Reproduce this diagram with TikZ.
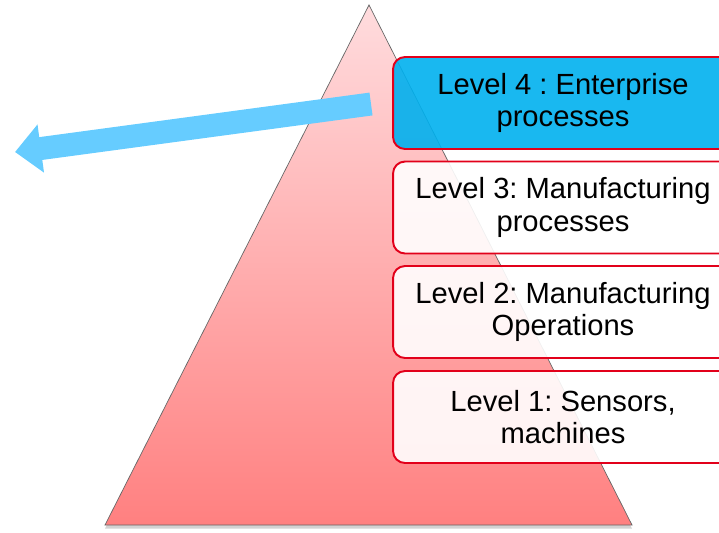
\documentclass[tikz,border=0pt]{standalone}
\usepackage{fontspec}
\setmainfont{Liberation Sans}
\usetikzlibrary{arrows.meta,shadows}
\frenchspacing

\definecolor{boxred}{HTML}{E2001A}
\definecolor{boxblue}{HTML}{00B0EE}
\definecolor{arrowblue}{HTML}{66CCFF}
\definecolor{pyrtop}{HTML}{FFDCDE}
\definecolor{pyrbottom}{HTML}{FF8080}

\tikzset{
  levelbox/.style={draw=boxred, line width=1.1pt, rounded corners=0.24cm,
    fill=white, fill opacity=0.9, text opacity=1,
    minimum width=6.8cm, minimum height=1.84cm, align=center,
    font=\fontsize{16.6}{18.7}\selectfont},
}

\begin{document}
\begin{tikzpicture}[x=0.02cm, y=-0.02cm]
    \useasboundingbox (0,0) rectangle (719,532);
    \clip (0,0) rectangle (719,532);

    % pyramid
    \draw[draw=black!60, thin, top color=pyrtop, bottom color=pyrbottom,
          drop shadow={shadow xshift=0pt, shadow yshift=-2pt, opacity=0.35}]
        (369,5) -- (632,525) -- (105,525) -- cycle;

    % levels
    \node[levelbox, fill=boxblue] (lvlfour) at (563,103) {Level 4 : Enterprise\\processes};
    \node[levelbox] (lvlthree) at (563,207.5) {Level 3: Manufacturing\\processes};
    \node[levelbox] (lvltwo) at (563,312) {Level 2: Manufacturing\\Operations};
    \node[levelbox] (lvlone) at (563,417) {Level 1: Sensors,\\machines};

    % arrow out of level 4
    \coordinate (arrowstart) at (371,104);
    \coordinate (arrowtip) at (15,152);
    \draw[arrowblue, line width=0.46cm, -{Triangle[length=0.52cm,width=0.94cm]}]
        (arrowstart) -- (arrowtip);
\end{tikzpicture}
\end{document}
